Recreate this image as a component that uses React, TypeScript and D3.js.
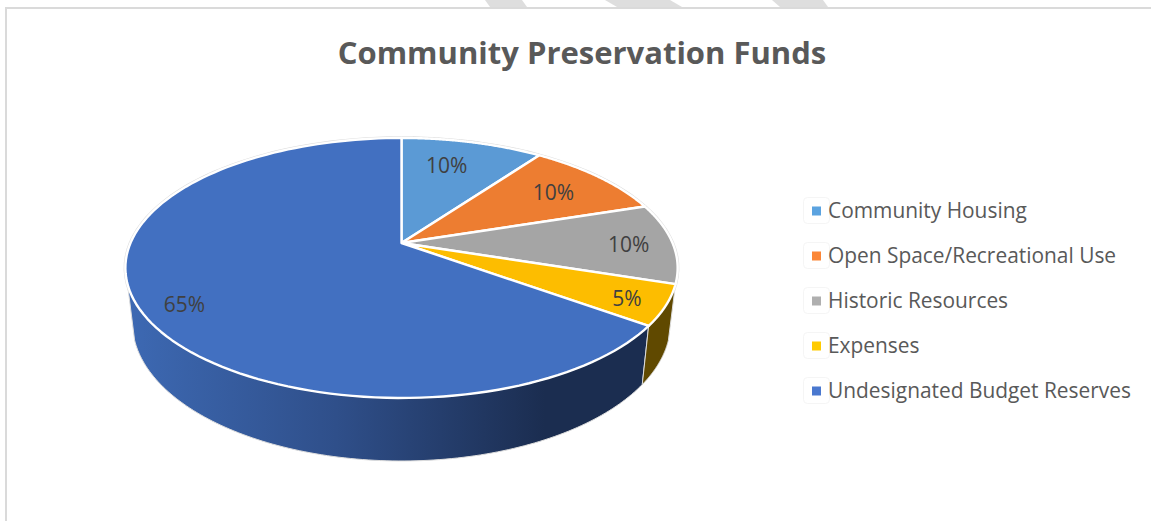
import React from "react";
import * as d3 from "d3";

// Fund shares, in legend order
const categories = [
  "Community Housing",
  "Open Space/Recreational Use",
  "Historic Resources",
  "Expenses",
  "Undesignated Budget Reserves",
];
const shares = [10, 10, 10, 5, 65];
const sliceColors = ["#5b9ad5", "#ed7d31", "#a5a5a5", "#fdbd00", "#4270c1"];
const swatchColors = ["#5ba3e0", "#fb8636", "#afafaf", "#ffcb00", "#4a78cf"];
const labelRadius = [0.72, 0.72, 0.72, 0.72, 0.88];
const labelNudgeX = [-8, 6, 32, 40, 13];
const labelNudgeY = [6, 6, 9, 19, 15];
const chartTitle = "Community Preservation Funds";

const WIDTH = 1151;
const HEIGHT = 521;
const FONT = "'Open Sans', 'Noto Sans', sans-serif";

// Tilted-disc projection: a unit-circle angle maps to screen through a perspective divide.
const PERSPECTIVE = 0.192;
const topDisc = { cx: 401.5, cy: 243, a: 271, b: 125.2 };
const baseDisc = { cx: 401.5, cy: 296.5, a: 264, b: 132.9 };

type Disc = typeof topDisc;
const project = (d: Disc, angle: number, r = 1): [number, number] => {
  const w = 1 + PERSPECTIVE * r * Math.cos(angle);
  return [d.cx + (d.a * r * Math.sin(angle)) / w, d.cy - (d.b * r * Math.cos(angle)) / w];
};

const arcPoints = (d: Disc, start: number, end: number) =>
  d3.range(0, 1.0001, 1 / 120).map((t) => project(d, start + (end - start) * t));

const line = d3.line();
const slices = d3.pie<number>().sort(null)(shares);
const TAU = Math.PI * 2;

// Band between the top rim and the base rim over one angular span
function wallPath(start: number, end: number) {
  const upper = arcPoints(topDisc, start, end);
  const lower = arcPoints(baseDisc, start, end).reverse();
  return line([...upper, ...lower])! + "Z";
}

export default function App() {
  const yellow = slices[3];
  const blue = slices[4];
  // The visible front of the large slice stops at the left silhouette of the disc
  const blueWallEnd = TAU * 0.7;
  return (
    <svg
      width={WIDTH}
      height={HEIGHT}
      viewBox={`0 0 ${WIDTH} ${HEIGHT}`}
      style={{ position: "absolute", left: 0, top: 0, background: "#fff" }}
    >
      <defs>
        <linearGradient id="wallBlue" gradientUnits="userSpaceOnUse" x1={127} x2={545} y1={0} y2={0}>
          <stop offset="0" stopColor="#3d69b3" />
          <stop offset="0.5" stopColor="#2f4f8a" />
          <stop offset="1" stopColor="#1b2d50" />
        </linearGradient>
      </defs>

      {/* sheet edge and the diagonal bands behind it */}
      <g fill="#dedede">
        <polygon points="485,0 522,0 527,7 490,7" />
        <polygon points="605,0 670,0 682,7 617,7" />
        <polygon points="772,0 823,0 828,7 780,7" />
      </g>
      <path d="M1151,8H6V521" fill="none" stroke="#dadada" strokeWidth={2} />

      <text
        x={582}
        y={63.5}
        textAnchor="middle"
        fontFamily={FONT}
        fontWeight={700}
        fontSize={31}
        fill="#595959"
      >
        {chartTitle}
      </text>

      {/* faint halo around the back of the rim */}
      <path
        d={line(arcPoints(topDisc, 0, TAU))! + "Z"}
        fill="none"
        stroke="#dddddd"
        strokeWidth={3.5}
      />

      {/* side walls */}
      <path
        d={wallPath(blue.startAngle, blueWallEnd)}
        fill="url(#wallBlue)"
        stroke="#dddddd"
        strokeWidth={1}
      />
      <path
        d={wallPath(yellow.startAngle, yellow.endAngle)}
        fill="#604900"
        stroke="#dddddd"
        strokeWidth={1}
      />

      {/* top face */}
      {slices.map((s, i) => (
        <path
          key={categories[i]}
          d={line([project(topDisc, 0, 0), ...arcPoints(topDisc, s.startAngle, s.endAngle)])! + "Z"}
          fill={sliceColors[i]}
          stroke="#fff"
          strokeWidth={2.4}
          strokeLinejoin="round"
        />
      ))}

      {/* value labels */}
      {slices.map((s, i) => {
        const mid = (s.startAngle + s.endAngle) / 2;
        const [x, y] = project(topDisc, mid, labelRadius[i]);
        return (
          <text
            key={categories[i]}
            x={x + labelNudgeX[i]}
            y={y + labelNudgeY[i]}
            textAnchor="middle"
            fontFamily={FONT}
            fontSize={21}
            fill="#404040"
          >
            {shares[i]}%
          </text>
        );
      })}

      {/* legend */}
      {categories.map((c, i) => {
        const y = 211 + i * 45;
        return (
          <g key={c}>
            <rect x={803.5} y={y - 13.5} width={26} height={26} rx={4} fill="#fff" stroke="#f5f5f5" strokeWidth={1} />
            <rect x={812} y={y - 4.5} width={9} height={9} fill={swatchColors[i]} />
            <text x={828} y={y + 6.5} fontFamily={FONT} fontSize={20.9} fill="#595959">
              {c}
            </text>
          </g>
        );
      })}
    </svg>
  );
}
